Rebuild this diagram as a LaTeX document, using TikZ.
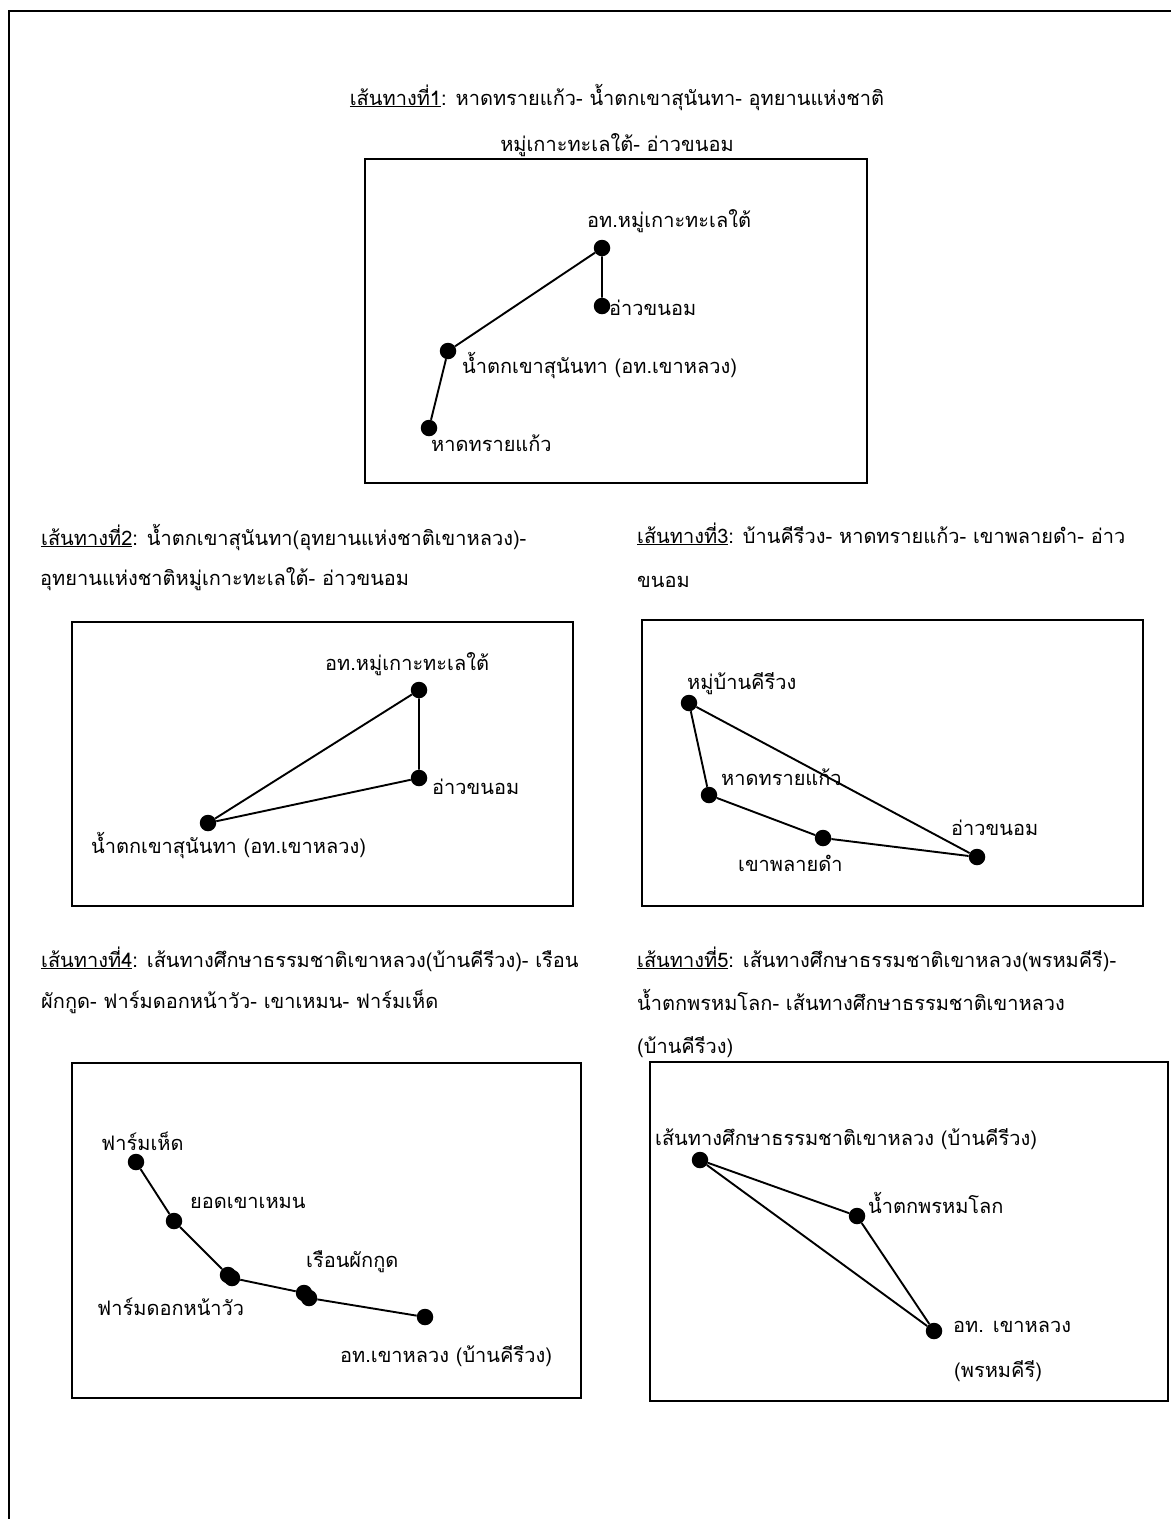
\documentclass[tikz,border=0pt]{standalone}
\usepackage{fontspec}
\setmainfont[Script=Thai]{Loma}
\begin{document}
\begin{tikzpicture}[x=1pt,y=-1pt,
  lbl/.style={anchor=base west,inner sep=0pt,font=\fontsize{20}{24}\selectfont},
  dot/.style={circle,fill=black,draw=none,minimum size=16.5pt,inner sep=0pt},
  route/.style={line width=1.9pt},
  frame/.style={line width=2.1pt}]
\useasboundingbox (0,0) rectangle (1171,1519);
\draw[frame] (9,1519) |- (1171,11);

% ---------- Route 1 ----------
\node[lbl,anchor=base] (t1a) at (617,105) {\underline{เส้นทางที่1}: หาดทรายแก้ว- น้ำตกเขาสุนันทา- อุทยานแห่งชาติ};
\node[lbl,anchor=base] (t1b) at (617,151) {หมู่เกาะทะเลใต้- อ่าวขนอม};
\node[frame,draw,minimum width=502pt,minimum height=324pt,inner sep=0pt,anchor=north west] (b1) at (364,158) {};
\node[dot] (r1a) at (602,248) {};
\node[dot] (r1b) at (602,306) {};
\node[dot] (r1c) at (448,351) {};
\node[dot] (r1d) at (429,428) {};
\node[lbl] (l1a) at (587,227) {อท.หมู่เกาะทะเลใต้};
\node[lbl] (l1b) at (609,315) {อ่าวขนอม};
\node[lbl] (l1c) at (462,373) {น้ำตกเขาสุนันทา (อท.เขาหลวง)};
\node[lbl] (l1d) at (431,451) {หาดทรายแก้ว};
\draw[route] (r1d) -- (r1c) -- (r1a) -- (r1b);

% ---------- Route 2 ----------
\node[lbl] (t2a) at (41,545) {\underline{เส้นทางที่2}: น้ำตกเขาสุนันทา(อุทยานแห่งชาติเขาหลวง)-};
\node[lbl] (t2b) at (40,585) {อุทยานแห่งชาติหมู่เกาะทะเลใต้- อ่าวขนอม};
\node[frame,draw,minimum width=501pt,minimum height=284pt,inner sep=0pt,anchor=north west] (b2) at (71,621) {};
\node[dot] (r2a) at (419,690) {};
\node[dot] (r2b) at (419,778) {};
\node[dot] (r2c) at (208,823) {};
\node[lbl] (l2a) at (325,670) {อท.หมู่เกาะทะเลใต้};
\node[lbl] (l2b) at (432,794) {อ่าวขนอม};
\node[lbl] (l2c) at (91,853) {น้ำตกเขาสุนันทา (อท.เขาหลวง)};
\draw[route] (r2c) -- (r2a) -- (r2b) -- (r2c);

% ---------- Route 3 ----------
\node[lbl] (t3a) at (637,543) {\underline{เส้นทางที่3}: บ้านคีรีวง- หาดทรายแก้ว- เขาพลายดำ- อ่าว};
\node[lbl] (t3b) at (637,587) {ขนอม};
\node[frame,draw,minimum width=501pt,minimum height=286pt,inner sep=0pt,anchor=north west] (b3) at (641,619) {};
\node[dot] (r3a) at (689,703) {};
\node[dot] (r3b) at (709,795) {};
\node[dot] (r3c) at (823,838) {};
\node[dot] (r3d) at (977,857) {};
\node[lbl] (l3a) at (687,689) {หมู่บ้านคีรีวง};
\node[lbl] (l3b) at (721,785) {หาดทรายแก้ว};
\node[lbl] (l3c) at (738,871) {เขาพลายดำ};
\node[lbl] (l3d) at (951,835) {อ่าวขนอม};
\draw[route] (r3a) -- (r3b) -- (r3c) -- (r3d) -- (r3a);

% ---------- Route 4 ----------
\node[lbl] (t4a) at (41,967) {\underline{เส้นทางที่4}: เส้นทางศึกษาธรรมชาติเขาหลวง(บ้านคีรีวง)- เรือน};
\node[lbl] (t4b) at (41,1008) {ผักกูด- ฟาร์มดอกหน้าวัว- เขาเหมน- ฟาร์มเห็ด};
\node[frame,draw,minimum width=509pt,minimum height=335pt,inner sep=0pt,anchor=north west] (b4) at (71,1062) {};
\node[dot] (r4a) at (136,1162) {};
\node[dot] (r4b) at (174,1221) {};
\node[dot] (r4c) at (228,1275) {};
\node[dot] (r4d) at (232,1278) {};
\node[dot] (r4e) at (304,1293) {};
\node[dot] (r4f) at (309,1298) {};
\node[dot] (r4g) at (425,1317) {};
\node[lbl] (l4a) at (101,1150) {ฟาร์มเห็ด};
\node[lbl] (l4b) at (190,1208) {ยอดเขาเหมน};
\node[lbl] (l4c) at (306,1267) {เรือนผักกูด};
\node[lbl] (l4d) at (97,1315) {ฟาร์มดอกหน้าวัว};
\node[lbl] (l4e) at (340,1362) {อท.เขาหลวง (บ้านคีรีวง)};
\draw[route] (r4a) -- (r4b) -- (r4c);
\draw[route] (r4d) -- (r4e);
\draw[route] (r4f) -- (r4g);

% ---------- Route 5 ----------
\node[lbl] (t5a) at (637,967) {\underline{เส้นทางที่5}: เส้นทางศึกษาธรรมชาติเขาหลวง(พรหมคีรี)-};
\node[lbl] (t5b) at (637,1010) {น้ำตกพรหมโลก- เส้นทางศึกษาธรรมชาติเขาหลวง};
\node[lbl] (t5c) at (637,1053) {(บ้านคีรีวง)};
\node[frame,draw,minimum width=518pt,minimum height=339pt,inner sep=0pt,anchor=north west] (b5) at (649,1061) {};
\node[dot] (r5a) at (700,1160) {};
\node[dot] (r5b) at (857,1216) {};
\node[dot] (r5c) at (934,1331) {};
\node[lbl] (l5a) at (655,1145) {เส้นทางศึกษาธรรมชาติเขาหลวง (บ้านคีรีวง)};
\node[lbl] (l5b) at (868,1213) {น้ำตกพรหมโลก};
\node[lbl] (l5c) at (953,1332) {อท. เขาหลวง};
\node[lbl] (l5d) at (954,1377) {(พรหมคีรี)};
\draw[route] (r5a) -- (r5b) -- (r5c) -- (r5a);
\end{tikzpicture}
\end{document}
